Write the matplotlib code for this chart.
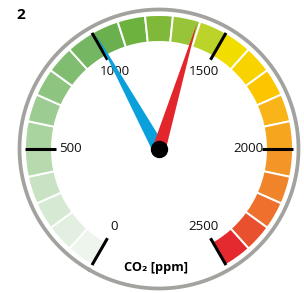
import numpy as np
import matplotlib
matplotlib.use('Agg')
import matplotlib.pyplot as plt

plt.rcParams['font.family'] = ['Open Sans', 'DejaVu Sans']

# gauge scale (ppm)
vmin, vmax = 0, 2500
step = 100
tick_values = [0, 500, 1000, 1500, 2000, 2500]
tick_labels = ['0', '500', '1000', '1500', '2000', '2500']

# colour of each 100 ppm segment, light green -> red
seg_colors = ['#eef5ec', '#e3efe0', '#d6e9d2', '#c8e2c3', '#b6d9ae',
              '#a9d39f', '#9ccc91', '#8dc47f', '#80bd70', '#74b661',
              '#6bb04f', '#6db23f', '#80b93a', '#98c43a', '#bcd42a',
              '#f2dd00', '#f8d300', '#fcc500', '#f8b418', '#f6a61e',
              '#f39627', '#f0842b', '#ee702c', '#e9502d', '#e4292f']

# needle readings
blue_value = 1010
red_value = 1390

SPAN = 300.0  # degrees covered by the scale


def to_theta(v):
    return np.deg2rad((v - vmin) / (vmax - vmin) * SPAN)


W, H = 304, 293
fig = plt.figure(figsize=(W / 100, H / 100), dpi=100)
cx, cy, R = 159, 149, 145
ax = fig.add_axes([(cx - R) / W, (H - cy - R) / H, 2 * R / W, 2 * R / H],
                  projection='polar')
ax.set_theta_offset(np.deg2rad(240))
ax.set_theta_direction(-1)
ax.set_ylim(0, R)
ax.set_axis_off()

# coloured band
edges = np.arange(vmin, vmax + step, step)
centers = (edges[:-1] + edges[1:]) / 2
r_in, r_out = 107, 134
ax.bar(to_theta(centers), r_out - r_in, width=to_theta(step), bottom=r_in,
       color=seg_colors, edgecolor='white', linewidth=1.4, zorder=1)

# outer grey ring
t = np.linspace(0, 2 * np.pi, 500)
ax.plot(t, np.full_like(t, 139.5), color='#a2a29f', lw=2.7, clip_on=False, zorder=1)

# ticks and labels
for v, lab in zip(tick_values, tick_labels):
    th = to_theta(v)
    ax.plot([th, th], [103, 134], color='black', lw=2.2,
            solid_capstyle='butt', zorder=2)
    ax.text(th, 89, lab, ha='center', va='center', fontsize=9.6, color='#111111')

# needles
for val, col in [(blue_value, '#0aa0dc'), (red_value, '#e3262c')]:
    th = to_theta(val)
    ax.fill([th, th + np.pi / 2, th - np.pi / 2], [131, 6.7, 6.7],
            color=col, lw=0, zorder=3)

ax.plot([0], [0], 'o', color='black', ms=11.5, zorder=4)

fig.text(21 / W, 1 - 15 / H, '2', ha='center', va='center',
         fontsize=11, fontweight='bold')
fig.text(156 / W, 1 - 268 / H, 'CO₂ [ppm]', ha='center', va='center',
         fontsize=9.2, fontweight='bold')

fig.savefig('out.png', dpi=100, facecolor='white')
